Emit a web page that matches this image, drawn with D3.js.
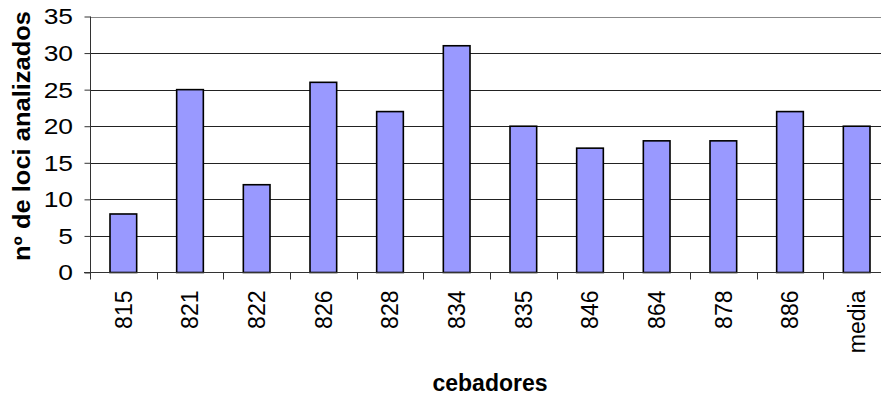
<!DOCTYPE html>
<html>
<head>
<meta charset="utf-8">
<script src="https://cdn.jsdelivr.net/npm/d3@7"></script>
<style>
  html, body { margin: 0; padding: 0; background: #fff; }
  svg { display: block; }
  text { font-family: "Liberation Sans", Arial, sans-serif; fill: #000; }
</style>
</head>
<body>
<svg id="chart" width="881" height="396"></svg>
<script>
// Number of loci analysed per primer
const categories = ["815", "821", "822", "826", "828", "834", "835", "846", "864", "878", "886", "media"];
const loci = [8, 25, 12, 26, 22, 31, 20, 17, 18, 18, 22, 20];
const yTicks = [0, 5, 10, 15, 20, 25, 30, 35];

const svg = d3.select("#chart");
const plot = { left: 90, right: 890, top: 16.5, bottom: 272.5 };

const x = d3.scaleBand().domain(categories).range([plot.left, plot.right]).paddingInner(0.6).paddingOuter(0.3);
const y = d3.scaleLinear().domain([0, 35]).range([plot.bottom, plot.top]);

// Horizontal gridlines
svg.append("g")
  .selectAll("line")
  .data(yTicks.filter(d => d > 0))
  .join("line")
  .attr("x1", plot.left).attr("x2", plot.right)
  .attr("y1", d => Math.round(y(d)) + 0.5).attr("y2", d => Math.round(y(d)) + 0.5)
  .attr("stroke", d => d === 35 ? "#888" : "#222")
  .attr("stroke-width", 1);

// Bars
svg.append("g")
  .selectAll("rect")
  .data(categories.map((c, i) => ({ c, v: loci[i] })))
  .join("rect")
  .attr("x", d => x(d.c))
  .attr("width", x.bandwidth())
  .attr("y", d => y(d.v))
  .attr("height", d => y(0) - y(d.v))
  .attr("fill", "#9999FF")
  .attr("stroke", "#000")
  .attr("stroke-width", 1.6);

// Y axis: line and ticks from d3.axisLeft, labels drawn slightly widened
const yAxis = svg.append("g")
  .attr("transform", `translate(${plot.left + 0.5},0)`)
  .call(d3.axisLeft(y).tickValues(yTicks).tickSize(6).tickFormat(""));
yAxis.select(".domain").attr("stroke", "#333").attr("d", `M0,${plot.top}V${plot.bottom + 6}`);
yAxis.selectAll(".tick line").attr("stroke", "#333");

svg.append("g")
  .selectAll("text")
  .data(yTicks)
  .join("text")
  .attr("transform", d => `translate(73,${y(d)}) scale(1.2,1)`)
  .attr("text-anchor", "end")
  .attr("dy", "0.36em")
  .attr("font-size", 22)
  .text(d3.format("d"));

// X axis with ticks on band boundaries
const xAxisG = svg.append("g").attr("transform", `translate(0,${plot.bottom})`);
xAxisG.append("line")
  .attr("x1", plot.left - 6).attr("x2", plot.right)
  .attr("stroke", "#333");
const step = x.step();
const boundaries = d3.range(categories.length + 1).map(i => plot.left + i * step);
xAxisG.selectAll("line.tick")
  .data(boundaries)
  .join("line")
  .attr("class", "tick")
  .attr("x1", d => Math.round(d) + 0.5).attr("x2", d => Math.round(d) + 0.5)
  .attr("y1", 0).attr("y2", 7)
  .attr("stroke", "#333");

xAxisG.selectAll("text")
  .data(categories)
  .join("text")
  .attr("transform", d => `translate(${x(d) + x.bandwidth() / 2},18) rotate(-90)`)
  .attr("text-anchor", "end")
  .attr("dy", "0.36em")
  .attr("font-size", 23)
  .text(d => d);

// Axis titles
svg.append("text")
  .attr("transform", "translate(30,136) rotate(-90)")
  .attr("text-anchor", "middle")
  .attr("font-size", 23)
  .attr("font-weight", "bold")
  .attr("textLength", 250)
  .attr("lengthAdjust", "spacingAndGlyphs")
  .text("nº de loci analizados");

svg.append("text")
  .attr("x", 490)
  .attr("y", 391)
  .attr("text-anchor", "middle")
  .attr("font-size", 23)
  .attr("font-weight", "bold")
  .text("cebadores");
</script>
</body>
</html>
